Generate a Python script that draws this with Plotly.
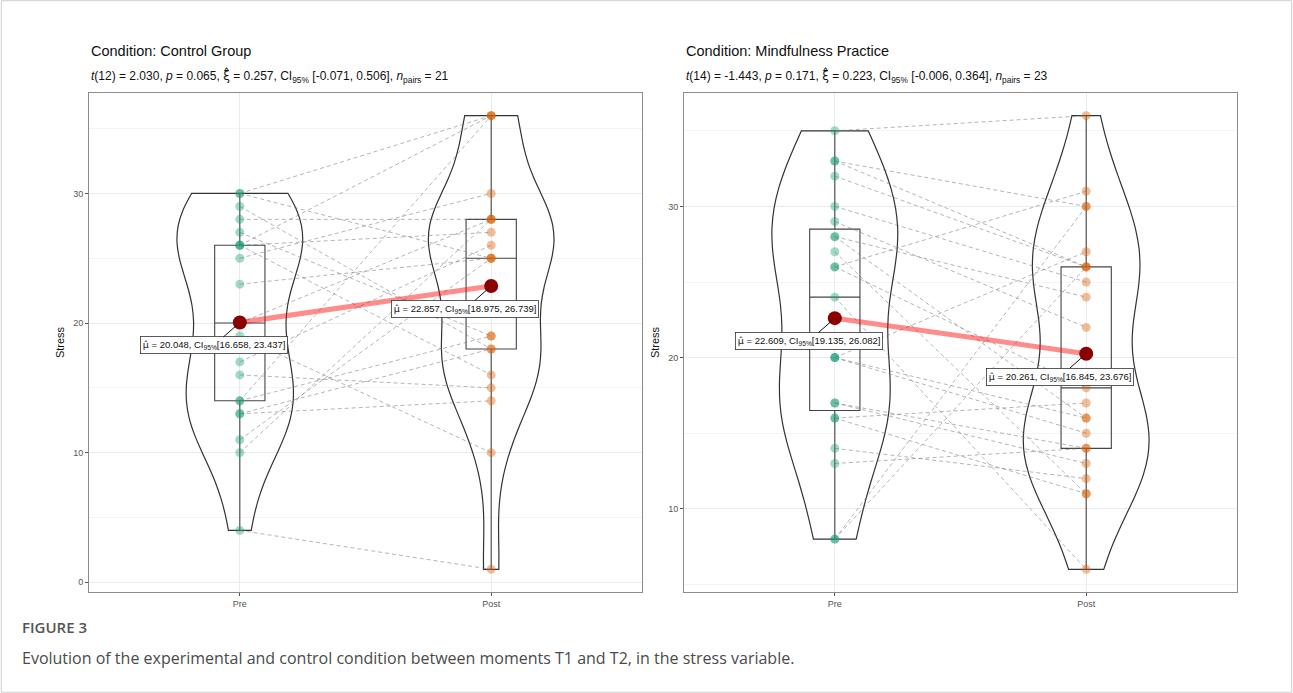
import numpy as np
import plotly.graph_objects as go

# ---- data (paired: i-th Pre value belongs with i-th Post value) ----
moments = ["Pre", "Post"]

ctrl_pre = [4, 10, 11, 13, 13, 14, 14, 16, 17, 19, 20, 23, 25, 26, 26, 26, 27, 28, 29, 30, 30]
ctrl_post = [1, 28, 25, 18, 14, 36, 19, 15, 26, 10, 28, 25, 30, 16, 36, 27, 19, 28, 18, 36, 25]

mind_pre = [8, 8, 13, 14, 16, 16, 17, 17, 20, 20, 20, 24, 26, 26, 27, 28, 28, 29, 30, 32, 33, 33, 35]
mind_post = [26, 30, 14, 12, 11, 17, 14, 13, 27, 15, 16, 6, 18, 31, 11, 24, 16, 22, 25, 26, 26, 30, 36]

HAT = '<span style="font-family:\'DejaVu Sans\'">{}\u0302</span>'

panel_titles = ["Condition: Control Group", "Condition: Mindfulness Practice"]
panel_stats = [
    "<i>t</i>(12) = 2.030, <i>p</i> = 0.065, " + HAT.format("ξ")
    + " = 0.257, CI<sub>95%</sub> [-0.071, 0.506], <i>n</i><sub>pairs</sub> = 21",
    "<i>t</i>(14) = -1.443, <i>p</i> = 0.171, " + HAT.format("ξ")
    + " = 0.223, CI<sub>95%</sub> [-0.006, 0.364], <i>n</i><sub>pairs</sub> = 23",
]
mean_ci = [
    [(16.658, 23.437), (18.975, 26.739)],
    [(19.135, 26.082), (16.845, 23.676)],
]

caption_head = "FIGURE 3"
caption_text = "Evolution of the experimental and control condition between moments T1 and T2, in the stress variable."

# ---- styling ----
W, H = 1293, 693
GREEN, ORANGE = "#1B9E77", "#D95F02"
FONT = "Liberation Sans, Arial, sans-serif"
panel_px = [(89, 642), (684, 1237)]
top_px, bottom_px = 93, 592


def nrd0(v):
    v = np.asarray(v, float)
    sd = v.std(ddof=1)
    q75, q25 = np.percentile(v, [75, 25])
    lo = min(sd, (q75 - q25) / 1.34)
    return 0.9 * lo * len(v) ** -0.2


fig = go.Figure()
panels = [(ctrl_pre, ctrl_post), (mind_pre, mind_post)]

for k, (pre, post) in enumerate(panels):
    xa = "x" if k == 0 else "x2"
    ya = "y" if k == 0 else "y2"
    groups = [(moments[0], pre, GREEN), (moments[1], post, ORANGE)]

    # violins (trimmed, area-scaled within a panel)
    for name, vals, col in groups:
        fig.add_trace(go.Violin(
            x=[name] * len(vals), y=vals, xaxis=xa, yaxis=ya,
            bandwidth=nrd0(vals), spanmode="hard", width=0.5,
            scalemode="count", scalegroup=f"p{k}",
            fillcolor="rgba(0,0,0,0)", line=dict(color="#333333", width=1.2),
            points=False, box_visible=False, meanline_visible=False,
            hoverinfo="skip", showlegend=False,
        ))

    # boxes
    for name, vals, col in groups:
        q1, med, q3 = np.percentile(vals, [25, 50, 75])
        fig.add_trace(go.Box(
            x=[name], q1=[q1], median=[med], q3=[q3],
            lowerfence=[min(vals)], upperfence=[max(vals)],
            xaxis=xa, yaxis=ya, width=0.2, whiskerwidth=0,
            fillcolor="rgba(0,0,0,0)", line=dict(color="#444444", width=1.1),
            boxpoints=False, hoverinfo="skip", showlegend=False,
        ))

    # paired dashed lines
    lx, ly = [], []
    for a, b in zip(pre, post):
        lx += [moments[0], moments[1], None]
        ly += [a, b, None]
    fig.add_trace(go.Scatter(
        x=lx, y=ly, xaxis=xa, yaxis=ya, mode="lines",
        line=dict(color="rgba(120,120,120,0.55)", width=1, dash="4px,3px"),
        hoverinfo="skip", showlegend=False,
    ))

    # individual observations
    for name, vals, col in groups:
        fig.add_trace(go.Scatter(
            x=[name] * len(vals), y=vals, xaxis=xa, yaxis=ya, mode="markers",
            marker=dict(color=col, size=9, opacity=0.4, line=dict(width=0)),
            hoverinfo="skip", showlegend=False,
        ))

    # group means and the path joining them
    means = [float(np.mean(pre)), float(np.mean(post))]
    fig.add_trace(go.Scatter(
        x=moments, y=means, xaxis=xa, yaxis=ya, mode="lines",
        line=dict(color="rgba(255,0,0,0.45)", width=5),
        hoverinfo="skip", showlegend=False,
    ))
    fig.add_trace(go.Scatter(
        x=moments, y=means, xaxis=xa, yaxis=ya, mode="markers",
        marker=dict(color="#8B0000", size=14, line=dict(width=0)),
        hoverinfo="skip", showlegend=False,
    ))

    for j, name in enumerate(moments):
        lo, hi = mean_ci[k][j]
        label = (HAT.format("\u03bc")
                 + f" = {means[j]:.3f}, CI<sub>95%</sub>[{lo:.3f}, {hi:.3f}]")
        fig.add_annotation(
            x=name, y=means[j], xref=xa, yref=ya, text=label,
            showarrow=True, arrowhead=0, arrowwidth=1, arrowcolor="#111111",
            ax=-26, ay=23, standoff=5,
            font=dict(family=FONT, size=9.5, color="#111111"),
            bgcolor="white", bordercolor="#333333", borderwidth=0.8, borderpad=2,
        )

    # panel titles
    x0 = panel_px[k][0] / W
    fig.add_annotation(x=x0, y=1 - 51 / H, xref="paper", yref="paper",
                       text=panel_titles[k], showarrow=False, xanchor="left",
                       yanchor="middle", font=dict(family=FONT, size=14.5, color="#111111"))
    fig.add_annotation(x=x0, y=1 - 76 / H, xref="paper", yref="paper",
                       text=panel_stats[k], showarrow=False, xanchor="left",
                       yanchor="middle", font=dict(family=FONT, size=12, color="#111111"))

# axis layout
ydom = [1 - bottom_px / H, 1 - top_px / H]
axis_common = dict(
    showline=True, mirror=True, linecolor="#8c8c8c", linewidth=1,
    ticks="outside", ticklen=3, tickcolor="#555555",
    tickfont=dict(family=FONT, size=9, color="#555555"),
    gridcolor="#EBEBEB", gridwidth=1, zeroline=False,
)
for k, (pre, post) in enumerate(panels):
    allv = pre + post
    lo, hi = min(allv), max(allv)
    pad = 0.05 * (hi - lo)
    sfx = "" if k == 0 else "2"
    fig.update_layout(**{
        f"xaxis{sfx}": dict(
            axis_common, domain=[panel_px[k][0] / W, panel_px[k][1] / W],
            type="category", categoryorder="array", categoryarray=moments,
            range=[-0.6, 1.6], anchor=f"y{sfx}",
        ),
        f"yaxis{sfx}": dict(
            axis_common, domain=ydom, range=[lo - pad, hi + pad], dtick=10,
            anchor=f"x{sfx}",
            minor=dict(dtick=5, showgrid=True, gridcolor="#F4F4F4", gridwidth=0.6),
            title=dict(text="Stress", font=dict(family=FONT, size=11, color="#111111"),
                       standoff=6),
        ),
    })

# caption
fig.add_annotation(x=20 / W, y=1 - 627 / H, xref="paper", yref="paper",
                   text=caption_head, showarrow=False, xanchor="left", yanchor="middle",
                   font=dict(family="Open Sans, sans-serif", size=15, color="#555555", weight=600))
fig.add_annotation(x=20 / W, y=1 - 658 / H, xref="paper", yref="paper",
                   text=caption_text, showarrow=False, xanchor="left", yanchor="middle",
                   font=dict(family="Open Sans, sans-serif", size=16, color="#4a4a4a"))

# outer frame
fig.add_shape(type="rect", xref="paper", yref="paper", x0=0.001, x1=0.999, y0=0.001, y1=0.999,
              line=dict(color="#cfcfcf", width=1), fillcolor="rgba(0,0,0,0)")

fig.update_layout(
    width=W, height=H, margin=dict(l=0, r=0, t=0, b=0),
    paper_bgcolor="white", plot_bgcolor="white",
    violinmode="overlay", boxmode="overlay", showlegend=False,
)

fig.write_html("out.html", config={"displayModeBar": False})
